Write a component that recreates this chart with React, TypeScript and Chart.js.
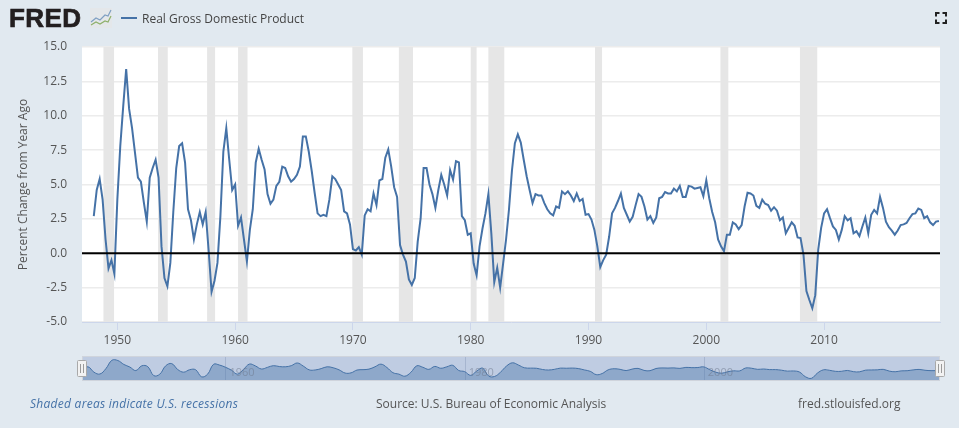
import React, { useEffect, useRef } from "react";
import { Chart, registerables } from "chart.js";

Chart.register(...registerables);

const seriesName = "Real Gross Domestic Product";
const yAxisTitle = "Percent Change from Year Ago";
const firstYear = 1948;
const gdp1948to1959 = [2.7,4.6,5.4,3.9,1.0,-1.1,-0.5,-1.5,3.9,7.8,10.7,13.4,10.5,9.1,7.3,5.5,5.2,3.7,2.3,5.5,6.2,6.8,5.5,0.5,-1.8,-2.4,-0.7,3.0,6.2,7.8,8.0,6.6,3.2,2.4,1.0,2.1,3.0,2.1,3.0,0.2,-2.8,-2.0,-0.7,2.7,7.4,9.1,6.8,4.6];
const gdp1960to1969 = [5.0,2.0,2.6,1.0,-0.6,1.7,3.2,6.6,7.6,6.8,6.1,4.3,3.6,3.9,4.9,5.2,6.3,6.2,5.6,5.2,5.4,5.7,6.3,8.5,8.5,7.4,6.0,4.4,2.9,2.7,2.8,2.7,3.9,5.6,5.4,5.0,4.6,3.05,2.9,2.1];
const gdp1970to1979 = [0.3,0.2,0.45,-0.1,2.75,3.2,3.05,4.35,3.5,5.3,5.4,6.95,7.55,6.3,4.8,4.1,0.6,-0.1,-0.6,-1.9,-2.3,-1.8,0.85,2.55,6.2,6.2,5.0,4.3,3.3,4.6,5.7,5.0,4.2,6.05,5.35,6.7,6.6,2.7,2.4,1.35];
const gdp1980to1989 = [1.45,-0.75,-1.6,0.5,1.8,2.9,4.3,1.45,-2.1,-1.05,-2.5,-0.75,1.0,3.2,6.0,8.0,8.65,8.05,6.8,5.6,4.6,3.65,4.3,4.2,4.2,3.65,3.2,2.9,2.75,3.4,3.3,4.5,4.3,4.5,4.2,3.8,4.35,3.8,3.95,2.8];
const gdp1990to1999 = [2.85,2.45,1.7,0.5,-1.0,-0.5,-0.1,1.2,2.9,3.3,3.8,4.35,3.3,2.8,2.3,2.65,3.5,4.3,4.1,3.4,2.45,2.7,2.2,2.6,4.0,4.1,4.45,4.35,4.35,4.7,4.5,4.9,4.1,4.1,4.9,4.85,4.7,4.75,4.8,4.15];
const gdp2000to2009 = [5.3,4.0,3.0,2.25,1.0,0.5,0.15,1.35,1.35,2.25,2.1,1.75,2.05,3.4,4.4,4.35,4.2,3.45,3.3,3.9,3.6,3.5,3.1,3.35,3.1,2.4,2.6,1.45,1.85,2.25,2.0,1.15,1.1,-0.1,-2.75,-3.4,-4.0,-3.05,0.25,1.85];
const gdp2010to2019 = [2.9,3.2,2.55,1.95,1.7,1.0,1.7,2.7,2.4,2.55,1.45,1.6,1.25,1.95,2.6,1.45,2.8,3.15,2.9,4.1,3.3,2.3,1.9,1.65,1.35,1.65,2.05,2.1,2.2,2.55,2.85,2.9,3.25,3.15,2.55,2.7,2.25,2.05,2.3,2.35];
const gdpValues = [...gdp1948to1959,...gdp1960to1969,...gdp1970to1979,...gdp1980to1989,...gdp1990to1999,...gdp2000to2009,...gdp2010to2019];
const recessionStarts = [1948.82,1953.45,1957.62,1960.25,1969.95,1973.9,1980.0,1981.5,1990.55,2001.2,2007.95];
const recessionEnds = [1949.72,1954.28,1958.3,1961.05,1970.85,1975.1,1980.5,1982.85,1991.15,2001.87,2009.42];
const yTicks = [-5,-2.5,0,2.5,5,7.5,10,12.5,15];
const xTicks = [1950,1960,1970,1980,1990,2000,2010];
const navigatorLabels = [1960,1980,2000];
const footerLeft = "Shaded areas indicate U.S. recessions";
const footerCenter = "Source: U.S. Bureau of Economic Analysis";
const footerRight = "fred.stlouisfed.org";

const points = gdpValues.map((y, i) => ({ x: firstYear + i * 0.25, y }));
const navPoints = points.filter((_, i) => i % 2 === 0 || i === points.length - 1);
const FONT = '"Open Sans", sans-serif';
const X_MIN = 1947.0;
const X_MAX = 2019.84;

const recessionPlugin = {
  id: "recessions",
  beforeDatasetsDraw(chart: any) {
    const { ctx, chartArea, scales } = chart;
    ctx.save();
    ctx.fillStyle = "#e6e6e6";
    recessionStarts.forEach((s, i) => {
      const a = scales.x.getPixelForValue(s);
      const b = scales.x.getPixelForValue(recessionEnds[i]);
      ctx.fillRect(a, chartArea.top, b - a, chartArea.bottom - chartArea.top);
    });
    ctx.restore();
  },
};

const zeroLinePlugin = {
  id: "zeroLine",
  afterDatasetsDraw(chart: any) {
    const { ctx, chartArea, scales } = chart;
    const y = scales.y.getPixelForValue(0);
    ctx.save();
    ctx.strokeStyle = "#000000";
    ctx.lineWidth = 2;
    ctx.beginPath();
    ctx.moveTo(chartArea.left, y);
    ctx.lineTo(chartArea.right, y);
    ctx.stroke();
    ctx.restore();
  },
};

const plotBackgroundPlugin = {
  id: "plotBackground",
  beforeDraw(chart: any) {
    const { ctx, chartArea } = chart;
    ctx.save();
    ctx.fillStyle = "#ffffff";
    ctx.fillRect(chartArea.left, chartArea.top, chartArea.right - chartArea.left, chartArea.bottom - chartArea.top);
    ctx.restore();
  },
};

const navigatorPlugin = {
  id: "navigatorDecor",
  beforeDatasetsDraw(chart: any) {
    const { ctx, chartArea, scales } = chart;
    ctx.save();
    ctx.fillStyle = "#bfcce2";
    ctx.fillRect(chartArea.left, chartArea.top, chartArea.right - chartArea.left, chartArea.bottom - chartArea.top);
    ctx.strokeStyle = "rgba(150,165,195,0.6)";
    ctx.lineWidth = 1;
    navigatorLabels.forEach((year) => {
      const x = Math.round(scales.x.getPixelForValue(year)) + 0.5;
      ctx.beginPath();
      ctx.moveTo(x, chartArea.top);
      ctx.lineTo(x, chartArea.bottom);
      ctx.stroke();
    });
    ctx.restore();
  },
  afterDatasetsDraw(chart: any) {
    const { ctx, chartArea, scales } = chart;
    ctx.save();
    ctx.strokeStyle = "#cfd4dc";
    ctx.lineWidth = 1;
    ctx.strokeRect(chartArea.left + 0.5, chartArea.top + 0.5, chartArea.right - chartArea.left - 1, chartArea.bottom - chartArea.top - 1);
    ctx.font = `11px ${FONT}`;
    ctx.fillStyle = "rgba(110,120,140,0.55)";
    ctx.textBaseline = "middle";
    navigatorLabels.forEach((year) => {
      const x = scales.x.getPixelForValue(year);
      ctx.fillText(String(year), x + 4, chartArea.top + 17);
    });
    ctx.restore();
  },
};

const textBase: React.CSSProperties = { position: "absolute", fontFamily: FONT, whiteSpace: "nowrap" };

function Handle({ left }: { left: number }) {
  return (
    <svg width={10} height={17} style={{ position: "absolute", left, top: 360 }}>
      <rect x={0.5} y={0.5} width={9} height={16} rx={1} fill="#f2f2f2" stroke="#a9a9a9" />
      <path d="M3.5 4V13M6.5 4V13" stroke="#9a9a9a" strokeWidth={1} />
    </svg>
  );
}

export default function App() {
  const mainRef = useRef<HTMLCanvasElement>(null);
  const navRef = useRef<HTMLCanvasElement>(null);

  useEffect(() => {
    document.body.style.margin = "0";
    document.body.style.background = "#e1e9f0";
    const main = new Chart(mainRef.current!, {
      type: "line",
      data: {
        datasets: [{
          label: seriesName,
          data: points,
          borderColor: "#4572a7",
          borderWidth: 2,
          pointRadius: 0,
          tension: 0,
        }],
      },
      options: {
        animation: false,
        responsive: false,
        parsing: false,
        layout: { padding: { left: 16, top: 47, right: 19, bottom: 0 } },
        plugins: { legend: { display: false }, tooltip: { enabled: false } },
        scales: {
          x: {
            type: "linear",
            min: X_MIN,
            max: X_MAX,
            position: "bottom",
            afterBuildTicks: (s: any) => { s.ticks = xTicks.map((value) => ({ value })); },
            afterFit: (s: any) => { s.height = 106; },
            grid: { drawOnChartArea: false, drawTicks: true, tickLength: 8, color: "#ccd6eb" },
            border: { color: "#ccd6eb", width: 1 },
            ticks: { color: "#555555", font: { family: FONT, size: 12 }, maxRotation: 0, padding: 3, callback: (v: any) => String(v) },
          },
          y: {
            type: "linear",
            min: -5,
            max: 15,
            afterBuildTicks: (s: any) => { s.ticks = yTicks.map((value) => ({ value })); },
            afterFit: (s: any) => { s.width = 66; },
            grid: { color: "#ececec", lineWidth: 1.5, drawTicks: false },
            border: { display: false },
            ticks: { color: "#555555", font: { family: FONT, size: 12 }, padding: 15, callback: (v: any) => Number(v).toFixed(1) },
            title: { display: true, text: yAxisTitle, color: "#555555", font: { family: FONT, size: 12 }, padding: { top: 0, bottom: 0 } },
          },
        },
      },
      plugins: [plotBackgroundPlugin, recessionPlugin, zeroLinePlugin],
    } as any);

    const nav = new Chart(navRef.current!, {
      type: "line",
      data: {
        datasets: [{
          data: navPoints,
          borderColor: "#4572a7",
          borderWidth: 1,
          backgroundColor: "rgba(69,114,167,0.4)",
          pointRadius: 0,
          tension: 0.4,
          fill: "start",
        }],
      },
      options: {
        animation: false,
        responsive: false,
        parsing: false,
        layout: { padding: 0 },
        plugins: { legend: { display: false }, tooltip: { enabled: false } },
        scales: {
          x: { type: "linear", display: false, min: firstYear, max: 2019.75 },
          y: { type: "linear", display: false, min: -6.2, max: 14.2 },
        },
      },
      plugins: [navigatorPlugin],
    } as any);

    return () => { main.destroy(); nav.destroy(); };
  }, []);

  return (
    <div style={{ position: "relative", width: 959, height: 428, overflow: "hidden", background: "#e1e9f0" }}>
      <canvas ref={mainRef} width={959} height={428} style={{ position: "absolute", left: 0, top: 0, width: 959, height: 428 }} />
      <canvas ref={navRef} width={858} height={25} style={{ position: "absolute", left: 82, top: 356, width: 858, height: 25 }} />
      <Handle left={77} />
      <Handle left={935} />

      <div style={{ ...textBase, left: 9, top: 0, fontFamily: '"Liberation Sans", sans-serif', fontWeight: 700, fontSize: 26, lineHeight: "36px", letterSpacing: 0.4, color: "#231f20", WebkitTextStroke: "0.7px #231f20" }}>FRED</div>
      <svg width={22} height={20} style={{ position: "absolute", left: 90, top: 8 }}>
        <rect x={0} y={0} width={22} height={20} fill="#e6e6e6" opacity={0.6} />
        <polyline points="1,14 6,10 10,12 15,7 18,8 21,2" fill="none" stroke="#7f9fc2" strokeWidth={1.2} />
        <polyline points="1,17 6,14 10,16 15,13 18,14 21,8" fill="none" stroke="#8eb06a" strokeWidth={1.2} />
      </svg>
      <div style={{ position: "absolute", left: 121, top: 17, width: 16, height: 2, background: "#4572a7" }} />
      <div style={{ ...textBase, left: 142, top: 10, fontSize: 12, lineHeight: "17px", color: "#444444" }}>{seriesName}</div>
      <svg width={12} height={12} style={{ position: "absolute", left: 935, top: 12 }}>
        <path d="M1 4.5V1H4.5M7.5 1H11V4.5M11 7.5V11H7.5M4.5 11H1V7.5" fill="none" stroke="#222222" strokeWidth={2} />
      </svg>

      <div style={{ ...textBase, left: 30, top: 395, fontStyle: "italic", fontSize: 12, letterSpacing: 0.27, lineHeight: "17px", color: "#4572a7" }}>{footerLeft}</div>
      <div style={{ ...textBase, left: 376, top: 395, fontSize: 12, lineHeight: "17px", color: "#555555" }}>{footerCenter}</div>
      <div style={{ ...textBase, left: 798, top: 395, fontSize: 12, lineHeight: "17px", color: "#555555" }}>{footerRight}</div>
    </div>
  );
}
